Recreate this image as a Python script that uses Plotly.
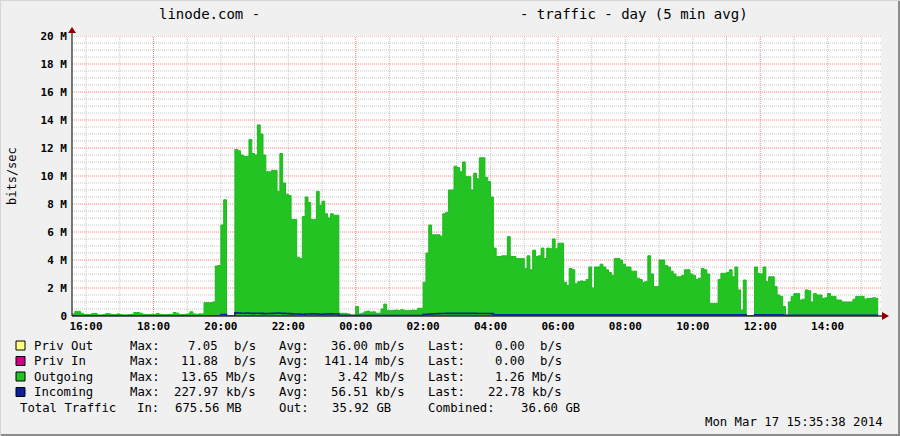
import pandas as pd
import plotly.graph_objects as go

# ---------------- data ----------------
start_time = "2014-03-16 15:35"
end_time = "2014-03-17 15:35"
step_minutes = 5

# Outgoing traffic, Mbit/s (5-minute averages from 15:35, one row per hour)
outgoing_mbps = [
    0.15, 0.33, 0.33, 0.2, 0.1, 0.1, 0.1, 0.17, 0.17, 0.08, 0.08, 0.1,
    0.17, 0.15, 0.1, 0.1, 0.15, 0.1, 0.08, 0.08, 0.1, 0.12, 0.25, 0.25,
    0.2, 0.12, 0.1, 0.1, 0.12, 0.1, 0.17, 0.12, 0.1, 0.1, 0.12, 0.1,
    0.25, 0.2, 0.1, 0.1, 0.12, 0.15, 0.3, 0.15, 0.12, 0.15, 0.15, 0.95,
    0.95, 0.95, 1.0, 3.57, 3.6, 6.5, 8.3, 0.0, 0.0, 0.0, 11.9, 11.8,
    11.5, 11.4, 11.4, 12.6, 11.6, 11.5, 13.65, 13.0, 11.5, 10.3, 10.3, 10.4,
    10.4, 8.9, 11.6, 9.5, 8.7, 8.6, 6.9, 6.9, 4.2, 4.1, 7.1, 8.5,
    8.1, 6.9, 6.9, 8.9, 7.9, 8.2, 7.3, 7.0, 7.3, 7.2, 7.2, 0.19,
    0.19, 0.19, 0.15, 0.07, 0.07, 0.67, 0.15, 0.2, 0.3, 0.35, 0.28, 0.3,
    0.2, 0.2, 0.5, 0.85, 0.4, 0.38, 0.4, 0.42, 0.4, 0.45, 0.4, 0.38,
    0.4, 0.42, 0.4, 0.55, 0.55, 2.4, 4.5, 6.5, 5.8, 5.8, 5.8, 5.7,
    7.3, 7.4, 9.0, 9.0, 10.7, 10.6, 10.3, 11.0, 9.95, 9.95, 9.0, 10.2,
    9.8, 11.3, 11.3, 9.9, 9.6, 8.5, 4.85, 4.25, 4.25, 4.3, 4.3, 5.67,
    4.25, 4.25, 4.1, 4.1, 4.1, 3.4, 4.3, 3.3, 4.7, 4.25, 4.3, 4.85,
    4.1, 4.85, 4.8, 5.5, 4.8, 5.2, 5.2, 2.4, 2.2, 3.4, 3.3, 2.3,
    2.45, 2.5, 2.45, 2.6, 3.5, 2.0, 3.5, 3.5, 3.7, 3.5, 3.3, 3.1,
    2.9, 4.1, 4.1, 4.0, 3.7, 3.5, 3.5, 3.2, 3.2, 2.7, 2.6, 2.4,
    2.45, 4.3, 3.0, 2.1, 2.1, 4.0, 4.0, 3.6, 3.5, 3.2, 3.0, 2.8,
    2.8, 2.9, 3.3, 3.3, 3.0, 2.9, 2.6, 2.7, 3.4, 3.3, 3.0, 0.9,
    0.9, 0.9, 2.6, 3.05, 3.05, 3.1, 3.3, 2.8, 3.5, 1.86, 0.43, 2.57,
    0.0, 0.0, 0.0, 3.5, 3.05, 3.0, 3.5, 2.45, 2.8, 2.8, 2.1, 1.5,
    1.4, 0.67, 0.07, 1.0, 1.38, 1.6, 1.6, 1.14, 1.2, 1.86, 1.8, 1.0,
    1.6, 1.5, 1.5, 1.26, 1.3, 1.6, 1.4, 1.4, 1.14, 1.14, 1.0, 1.0,
    1.0, 1.0, 1.2, 1.4, 1.4, 1.4, 1.2, 1.26, 1.26, 1.3, 1.26, 1.26,
]

# Incoming traffic, Mbit/s (same 5-minute steps)
incoming_mbps = (
    [0.02] * 53 + [0.1, 0.1] + [0.0] * 3
    + [0.22, 0.21, 0.2, 0.2, 0.21, 0.2, 0.19, 0.2, 0.2, 0.19]
    + [0.17, 0.18, 0.18, 0.19, 0.2, 0.21, 0.2, 0.19, 0.18, 0.17]
    + [0.15, 0.14, 0.14, 0.13, 0.13, 0.14, 0.14, 0.15, 0.15, 0.14, 0.13, 0.13,
       0.14, 0.15, 0.15, 0.14, 0.14]
    + [0.03] * 30
    + [0.1, 0.12, 0.14, 0.15, 0.16, 0.17, 0.18, 0.18, 0.19, 0.19, 0.19, 0.19, 0.19,
       0.19, 0.19, 0.19, 0.19, 0.19, 0.19, 0.18, 0.18, 0.18, 0.18, 0.18, 0.17]
    + [0.08] * 90 + [0.0] * 3 + [0.08] * 10 + [0.05] * 35
)

y_tick_values_m = [0, 2, 4, 6, 8, 10, 12, 14, 16, 18, 20]
y_tick_labels = ["0", "2 M", "4 M", "6 M", "8 M", "10 M", "12 M", "14 M", "16 M", "18 M", "20 M"]
x_tick_start = "2014-03-16 16:00"
x_tick_labels = ["16:00", "18:00", "20:00", "22:00", "00:00", "02:00",
                 "04:00", "06:00", "08:00", "10:00", "12:00", "14:00"]

legend_names = ["Priv Out", "Priv In", "Outgoing", "Incoming"]
max_vals = ["7.05", "11.88", "13.65", "227.97"]
max_units = ["b/s", "b/s", "Mb/s", "kb/s"]
avg_vals = ["36.00", "141.14", "3.42", "56.51"]
avg_units = ["mb/s", "mb/s", "Mb/s", "kb/s"]
last_vals = ["0.00", "0.00", "1.26", "22.78"]
last_units = ["b/s", "b/s", "Mb/s", "kb/s"]
total_in = "675.56 MB"
total_out = "35.92 GB"
total_combined = "36.60 GB"
title_left = "linode.com -"
title_right = "- traffic - day (5 min avg)"
timestamp_text = "Mon Mar 17 15:35:38 2014"
y_title = "bits/sec"

# ---------------- styles ----------------
W, H = 900, 436
L, R, T, B = 72, 881, 36, 316
MONO = "DejaVu Sans Mono"
GREEN = "#22c322"
GREEN_EDGE = "#1fb81f"
BLUE = "#0c1c9c"
swatch_colors = ["#ffff80", "#cc0088", "#22c322", "#0a1e9e"]


def px(x):
    return (x - L) / (R - L)


def py(y):
    return (B - y) / (B - T)


times = pd.date_range(start_time, periods=len(outgoing_mbps), freq=f"{step_minutes}min")
out_bps = [v * 1e6 for v in outgoing_mbps]
in_bps = [v * 1e6 for v in incoming_mbps]

fig = go.Figure()
fig.add_trace(go.Scatter(
    x=times, y=out_bps, mode="lines", line=dict(shape="hv", color=GREEN_EDGE, width=1),
    fill="tozeroy", fillcolor=GREEN, hoverinfo="skip", showlegend=False,
))
fig.add_trace(go.Scatter(
    x=times, y=in_bps, mode="lines", line=dict(shape="hv", color=BLUE, width=1.6),
    hoverinfo="skip", showlegend=False,
))

shapes = []
# vertical grid (every hour, red every 6 hours)
hours = pd.date_range("2014-03-16 16:00", "2014-03-17 15:00", freq="1h")
for h in hours:
    major = h.hour % 6 == 0
    shapes.append(dict(type="line", xref="x", yref="paper", x0=h, x1=h, y0=0, y1=1,
                       layer="below",
                       line=dict(color="#ff7a7a" if major else "#c4c4c4", width=1, dash="1px,1px")))
# horizontal grid (every 0.5 M, red every 2 M)
for i in range(1, 41):
    v = i * 0.5
    major = (i % 4 == 0)
    shapes.append(dict(type="line", xref="paper", yref="y", x0=0, x1=1, y0=v * 1e6, y1=v * 1e6,
                       layer="below",
                       line=dict(color="#ff7a7a" if major else "#c4c4c4", width=1, dash="1px,1px")))
# axes with arrows
shapes.append(dict(type="line", xref="paper", yref="paper", x0=0, x1=0, y0=0, y1=py(31),
                   line=dict(color="#303030", width=1.3)))
shapes.append(dict(type="line", xref="paper", yref="paper", x0=0, x1=px(884), y0=0, y1=0,
                   line=dict(color="#303030", width=1.3)))
shapes.append(dict(type="path", xref="paper", yref="paper",
                   path=f"M {px(68)} {py(33)} L {px(76)} {py(33)} L {px(72)} {py(27)} Z",
                   fillcolor="#8b0000", line=dict(width=0)))
shapes.append(dict(type="path", xref="paper", yref="paper",
                   path=f"M {px(882)} {py(312)} L {px(882)} {py(320)} L {px(889)} {py(316)} Z",
                   fillcolor="#8b0000", line=dict(width=0)))
# image frame
shapes.append(dict(type="line", xref="paper", yref="paper", x0=px(0), x1=px(900), y0=py(435), y1=py(435),
                   line=dict(color="#8c8c8c", width=2)))
shapes.append(dict(type="line", xref="paper", yref="paper", x0=px(899), x1=px(899), y0=py(0), y1=py(436),
                   line=dict(color="#8c8c8c", width=2)))
shapes.append(dict(type="line", xref="paper", yref="paper", x0=px(0), x1=px(900), y0=py(0.5), y1=py(0.5),
                   line=dict(color="#d6d6d6", width=1)))
shapes.append(dict(type="line", xref="paper", yref="paper", x0=px(0.5), x1=px(0.5), y0=py(0), y1=py(436),
                   line=dict(color="#d6d6d6", width=1)))

# legend swatches
row_y = [345.5, 361, 376.5, 392]
for c, ry in zip(swatch_colors, row_y):
    shapes.append(dict(type="rect", xref="paper", yref="paper",
                       x0=px(16), x1=px(25), y0=py(ry - 4.5), y1=py(ry + 4.5),
                       fillcolor=c, line=dict(color="#000000", width=1)))

ann = []


def text(x, y, s, anchor="left", size=12.3, weight="normal", angle=0):
    ann.append(dict(xref="paper", yref="paper", x=px(x), y=py(y), text=s, showarrow=False,
                    xanchor=anchor, yanchor="middle", textangle=angle,
                    font=dict(family=MONO, size=size, color="#000000", weight=weight)))


text(157, 14, title_left, size=14)
text(518, 14, title_right, size=14)
text(12, 176, y_title, anchor="center", size=12, angle=-90)

for i, ry in enumerate(row_y):
    text(32, ry, legend_names[i])
    text(128, ry, "Max:")
    text(220, ry, max_vals[i], anchor="right")
    text(258, ry, max_units[i], anchor="right")
    text(277, ry, "Avg:")
    text(370, ry, avg_vals[i], anchor="right")
    text(407, ry, avg_units[i], anchor="right")
    text(426, ry, "Last:")
    text(527, ry, last_vals[i], anchor="right")
    text(564, ry, last_units[i], anchor="right")

ty = 407.5
text(18, ty, "Total Traffic")
text(135, ty, "In:")
text(173, ty, total_in)
text(277, ty, "Out:")
text(330, ty, total_out)
text(426, ty, "Combined:")
text(519, ty, total_combined)
text(885, 422, timestamp_text, anchor="right")

fig.update_layout(
    width=W, height=H,
    margin=dict(l=L, r=W - R, t=T, b=H - B, pad=0),
    paper_bgcolor="#f0f0f0", plot_bgcolor="#ffffff",
    shapes=shapes, annotations=ann, showlegend=False,
    xaxis=dict(
        type="date", range=[start_time, end_time],
        tickvals=list(pd.date_range(x_tick_start, periods=len(x_tick_labels), freq="2h")),
        ticktext=x_tick_labels, showgrid=False, zeroline=False, showline=False, ticks="",
        tickfont=dict(family=MONO, size=11, color="#000000", weight="bold"),
        ticklabelstandoff=2,
    ),
    yaxis=dict(
        range=[0, 20e6], tickvals=[v * 1e6 for v in y_tick_values_m], ticktext=y_tick_labels,
        showgrid=False, zeroline=False, showline=False, ticks="",
        tickfont=dict(family=MONO, size=11, color="#000000", weight="bold"),
        ticklabelstandoff=4,
    ),
)

fig.write_html(
    "out.html",
    config={"displayModeBar": False, "staticPlot": True},
    post_script="document.body.style.margin='0';document.body.style.overflow='hidden';",
)
